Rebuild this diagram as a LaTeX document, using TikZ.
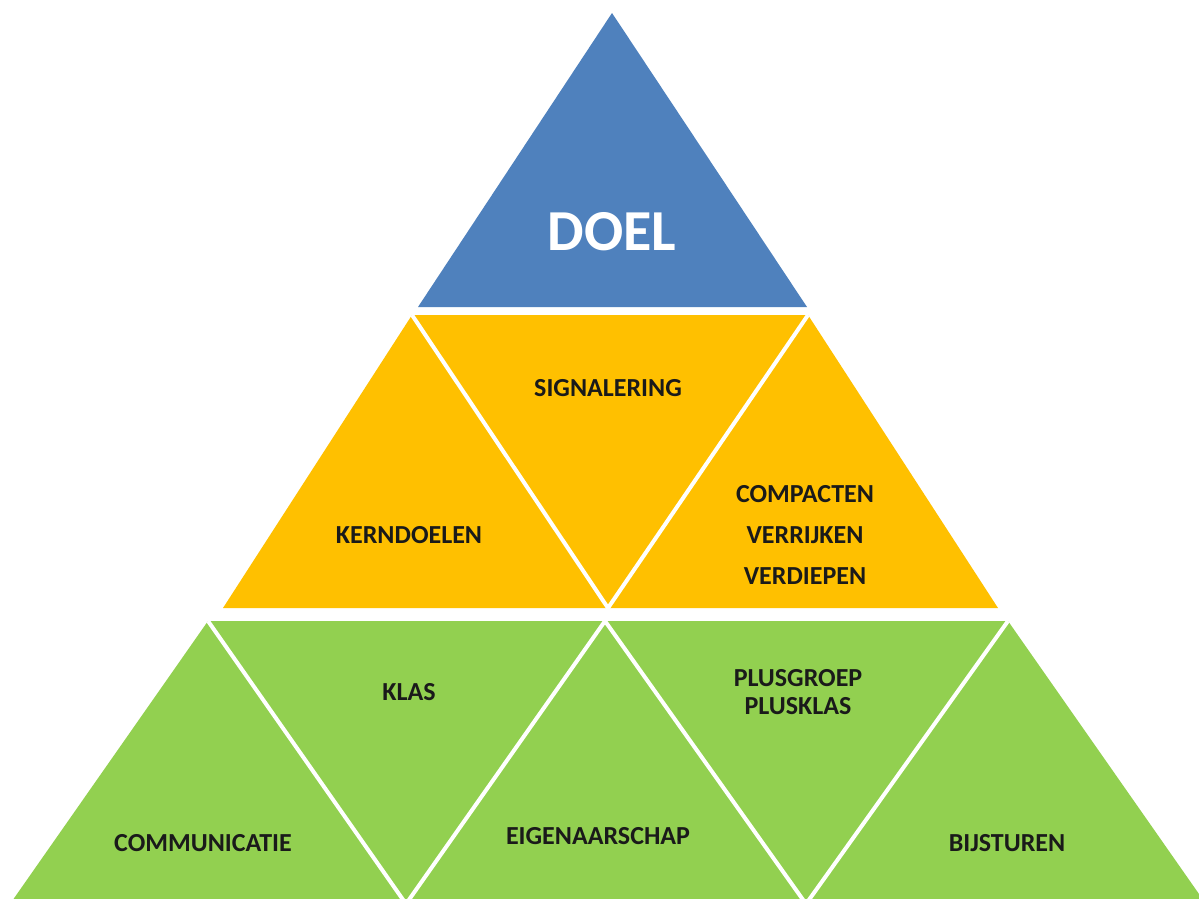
\documentclass[tikz,border=0pt]{standalone}
\usepackage{fontspec}
\setmainfont{Carlito}
\definecolor{doelblue}{HTML}{4F81BD}
\definecolor{midyellow}{HTML}{FFC000}
\definecolor{basegreen}{HTML}{92D050}
\definecolor{labeltext}{HTML}{1A1A1A}
\begin{document}
\begin{tikzpicture}[x=1pt,y=-1pt,
  sep/.style={draw=white,line width=4pt},
  lbl/.style={font=\bfseries\fontsize{26}{31}\selectfont,text=labeltext,align=center,inner sep=0pt},
  big/.style={font=\bfseries\fontsize{58}{64}\selectfont,text=white,inner sep=0pt}]
\useasboundingbox (0,0) rectangle (1199,898);
\fill[white] (0,0) rectangle (1199,898);
\begin{scope}
\clip (0,0) rectangle (1199,898);
% top
\fill[doelblue] (612,13) -- (807,307) -- (418,307) -- cycle;
% middle row
\coordinate (y1) at (412,315);
\coordinate (y2) at (808,315);
\coordinate (y3) at (998,608);
\coordinate (y4) at (223,608);
\coordinate (ym) at (608,608);
\fill[midyellow] (y1) -- (y2) -- (y3) -- (y4) -- cycle;
\draw[sep] (y1) -- (ym) -- (y2);
% bottom row
\coordinate (g1) at (208,621);
\coordinate (g2) at (605,621);
\coordinate (g3) at (1008,621);
\coordinate (g4) at (1206,904);
\coordinate (g5) at (10,904);
\coordinate (gb1) at (406,904);
\coordinate (gb2) at (806,904);
\fill[basegreen] (g1) -- (g3) -- (g4) -- (g5) -- cycle;
\draw[sep] (g1) -- (gb1) -- (g2) -- (gb2) -- (g3);
\end{scope}
% labels
\node[big] (doel) at (612,232) {DOEL};
\node[lbl] (sign) at (608,388) {SIGNALERING};
\node[lbl] (kern) at (409,535) {KERNDOELEN};
\node[lbl] (comp) at (805,535) {COMPACTEN\\[10pt]VERRIJKEN\\[10pt]VERDIEPEN};
\node[lbl] (klas) at (409,692) {KLAS};
\node[lbl,font=\bfseries\fontsize{26}{28}\selectfont] (plus) at (798,692) {PLUSGROEP\\PLUSKLAS};
\node[lbl] (comm) at (203,843) {COMMUNICATIE};
\node[lbl] (eigen) at (598,836) {EIGENAARSCHAP};
\node[lbl] (bijs) at (1007,843) {BIJSTUREN};
\end{tikzpicture}
\end{document}
